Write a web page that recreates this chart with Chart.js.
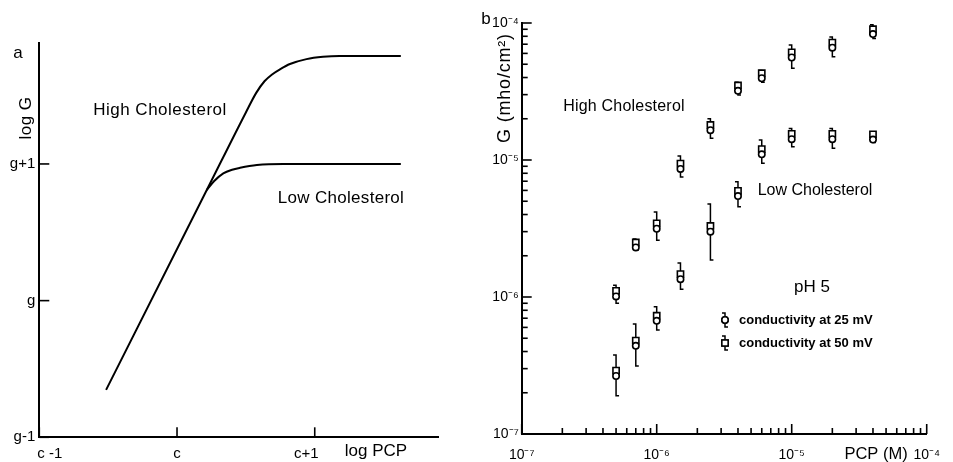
<!DOCTYPE html>
<html>
<head>
<meta charset="utf-8">
<script src="https://cdn.jsdelivr.net/npm/chart.js@4.4.1/dist/chart.umd.min.js"></script>
<style>
html, body { margin: 0; padding: 0; background: #fff; }
#wrap { position: relative; width: 953px; height: 462px; }
#boxA { position: absolute; left: 0; top: 0; width: 470px; height: 462px; }
#boxB { position: absolute; left: 470px; top: 0; width: 483px; height: 462px; }
</style>
</head>
<body>
<div id="wrap">
  <div id="boxA"><canvas id="chartA"></canvas></div>
  <div id="boxB"><canvas id="chartB"></canvas></div>
</div>
<script>
// ---- panel a : schematic (log G vs log PCP, units relative to c and g)
const logPcpTicks = [-1, 0, 1];
const logPcpLabels = ['\u00A0\u00A0\u00A0\u00A0\u00A0c -1', 'c', 'c+1\u00A0\u00A0\u00A0\u00A0'];
const logGTicks = [-1, 0, 1];
const logGLabels = ['g-1', 'g', 'g+1'];

const highCholX = [-0.515, 0.216, 0.50, 0.575, 0.635, 0.69, 0.75, 0.82, 0.94, 1.06, 1.18, 1.625];
const highCholY = [-0.653, 0.809, 1.377, 1.52, 1.605, 1.655, 1.694, 1.731, 1.767, 1.784, 1.79, 1.79];
const lowCholX = [0.216, 0.27, 0.336, 0.40, 0.458, 0.58, 0.77, 1.625];
const lowCholY = [0.809, 0.875, 0.931, 0.958, 0.972, 0.992, 1.0, 1.0];

// ---- panel b : measured conductance, pH 5
const pcpConc = [5e-7, 7e-7, 1e-6, 1.5e-6, 2.5e-6, 4e-6, 6e-6, 1e-5, 2e-5, 4e-5];

const highG25 = [1.01e-6, 2.3e-6, 3.15e-6, 8.6e-6, 1.65e-5, 3.2e-5, 3.95e-5, 5.6e-5, 6.6e-5, 8.3e-5];
const highG50 = [1.11e-6, 2.5e-6, 3.45e-6, 9.4e-6, 1.8e-5, 3.5e-5, 4.3e-5, 6.1e-5, 7.2e-5, 9.0e-5];
const highErrTop = [1.22e-6, 2.65e-6, 4.17e-6, 1.07e-5, 2.0e-5, 3.7e-5, 4.5e-5, 6.9e-5, 7.9e-5, 9.7e-5];
const highErrBot = [9.0e-7, 2.2e-6, 2.6e-6, 7.5e-6, 1.44e-5, 2.98e-5, 3.7e-5, 4.67e-5, 5.67e-5, 7.7e-5];

const lowG25 = [2.65e-7, 4.4e-7, 6.7e-7, 1.35e-6, 3.0e-6, 5.45e-6, 1.1e-5, 1.42e-5, 1.42e-5, 1.41e-5];
const lowG50 = [2.9e-7, 4.8e-7, 7.3e-7, 1.47e-6, 3.3e-6, 5.95e-6, 1.2e-5, 1.55e-5, 1.55e-5, 1.54e-5];
const lowErrTop = [3.77e-7, 6.35e-7, 8.5e-7, 1.77e-6, 4.77e-6, 6.95e-6, 1.4e-5, 1.7e-5, 1.7e-5, 1.61e-5];
const lowErrBot = [1.9e-7, 3.13e-7, 5.75e-7, 1.14e-6, 1.86e-6, 4.56e-6, 9.46e-6, 1.25e-5, 1.22e-5, 1.34e-5];

const decadeTicks = [1e-7, 1e-6, 1e-5, 1e-4];
const decadeLabels = ['10\u207B\u2077', '10\u207B\u2076', '10\u207B\u2075', '10\u207B\u2074'];
const minorSteps = [2, 3, 4, 5, 6, 7, 8, 9];

const FONT = "'Liberation Sans', Arial, sans-serif";

function logTickList() {
  let list = [];
  decadeTicks.forEach((d, i) => {
    list.push({ value: d, major: true });
    if (i < decadeTicks.length - 1) {
      minorSteps.forEach(m => list.push({ value: d * m, major: false }));
    }
  });
  return list;
}

// ticks pointing into the plot
const inwardTicks = {
  id: 'inwardTicks',
  afterDraw(chart, args, opts) {
    const ctx = chart.ctx;
    const xs = chart.scales.x, ys = chart.scales.y;
    ctx.save();
    ctx.strokeStyle = '#000';
    ctx.lineWidth = 1.6;
    xs.ticks.forEach(t => {
      const px = xs.getPixelForValue(t.value);
      const len = t.major ? opts.major : opts.minor;
      ctx.beginPath();
      ctx.moveTo(px, xs.top);
      ctx.lineTo(px, xs.top - len);
      ctx.stroke();
    });
    ys.ticks.forEach(t => {
      const py = ys.getPixelForValue(t.value);
      const len = t.major ? opts.major : opts.minor;
      ctx.beginPath();
      ctx.moveTo(ys.right, py);
      ctx.lineTo(ys.right + len, py);
      ctx.stroke();
    });
    ctx.restore();
  }
};

const textMarks = {
  id: 'textMarks',
  afterDraw(chart, args, opts) {
    const ctx = chart.ctx;
    (opts.items || []).forEach(it => {
      ctx.save();
      ctx.font = it.font;
      ctx.fillStyle = '#000';
      ctx.letterSpacing = it.spacing || '0px';
      ctx.textAlign = it.align || 'center';
      ctx.textBaseline = 'middle';
      ctx.translate(it.x, it.y);
      if (it.rotate) ctx.rotate(it.rotate);
      ctx.fillText(it.text, 0, 0);
      ctx.restore();
    });
  }
};

function drawBar(ctx, x, yTop, yBot) {
  ctx.beginPath();
  ctx.moveTo(x - 3, yTop);
  ctx.lineTo(x, yTop);
  ctx.lineTo(x, yBot);
  ctx.lineTo(x + 3, yBot);
  ctx.stroke();
}

const errorBars = {
  id: 'errorBars',
  beforeDatasetsDraw(chart) {
    const ctx = chart.ctx;
    const xs = chart.scales.x, ys = chart.scales.y;
    ctx.save();
    ctx.strokeStyle = '#000';
    ctx.lineWidth = 1.5;
    pcpConc.forEach((c, i) => {
      const px = xs.getPixelForValue(c);
      drawBar(ctx, px, ys.getPixelForValue(highErrTop[i]), ys.getPixelForValue(highErrBot[i]));
      drawBar(ctx, px, ys.getPixelForValue(lowErrTop[i]), ys.getPixelForValue(lowErrBot[i]));
    });
    ctx.restore();
  }
};

const keyBox = {
  id: 'keyBox',
  afterDraw(chart) {
    const ctx = chart.ctx;
    const rows = [
      { style: 'circle', y: 320, text: 'conductivity at 25 mV' },
      { style: 'rect', y: 343, text: 'conductivity at 50 mV' }
    ];
    ctx.save();
    rows.forEach(r => {
      ctx.strokeStyle = '#000';
      ctx.lineWidth = 1.5;
      drawBar(ctx, 255, r.y - 7, r.y + 7);
      Chart.helpers.drawPoint(ctx, {
        pointStyle: r.style, radius: r.style === 'rect' ? 4.4 : 3.2, borderWidth: 1.6
      }, 255, r.y);
      ctx.fillStyle = '#fff';
      ctx.fill();
      ctx.stroke();
      ctx.font = 'bold 13px ' + FONT;
      ctx.fillStyle = '#000';
      ctx.textAlign = 'left';
      ctx.textBaseline = 'middle';
      ctx.fillText(r.text, 269, r.y);
    });
    ctx.restore();
  }
};

// ---------- chart a
new Chart(document.getElementById('chartA'), {
  type: 'scatter',
  data: {
    datasets: [
      {
        data: highCholX.map((x, i) => ({ x: x, y: highCholY[i] })),
        showLine: true, borderColor: '#000', borderWidth: 2,
        pointRadius: 0, cubicInterpolationMode: 'monotone'
      },
      {
        data: lowCholX.map((x, i) => ({ x: x, y: lowCholY[i] })),
        showLine: true, borderColor: '#000', borderWidth: 2,
        pointRadius: 0, cubicInterpolationMode: 'monotone'
      }
    ]
  },
  options: {
    responsive: true,
    maintainAspectRatio: false,
    animation: false,
    devicePixelRatio: 1,
    layout: { padding: { left: 0, top: 43, right: 32, bottom: 0 } },
    plugins: {
      legend: { display: false },
      tooltip: { enabled: false },
      inwardTicks: { major: 10, minor: 10 },
      textMarks: {
        items: [
          { text: 'a', x: 18, y: 53, font: '17px ' + FONT },
          { text: 'log G', x: 26, y: 118, font: '17px ' + FONT, rotate: -Math.PI / 2, spacing: '0.5px' },
          { text: 'log PCP', x: 376, y: 451, font: '17px ' + FONT },
          { text: 'High Cholesterol', x: 160, y: 110, font: '17px ' + FONT, spacing: '0.5px' },
          { text: 'Low Cholesterol', x: 341, y: 198, font: '17px ' + FONT, spacing: '0.3px' }
        ]
      }
    },
    scales: {
      x: {
        type: 'linear', min: -1, max: 1.895,
        afterBuildTicks: s => { s.ticks = logPcpTicks.map(v => ({ value: v, major: true })); },
        afterFit: s => { s.height = 462 - 437.3; },
        grid: { display: false, drawTicks: false },
        border: { display: true, color: '#000', width: 2 },
        ticks: {
          autoSkip: false, maxRotation: 0, padding: 8, color: '#000',
          font: { family: FONT, size: 15 },
          callback: (v, i) => logPcpLabels[i]
        }
      },
      y: {
        type: 'linear', min: -1, max: 1.885,
        afterBuildTicks: s => { s.ticks = logGTicks.map(v => ({ value: v, major: true })); },
        afterFit: s => { s.width = 39.3; },
        grid: { display: false, drawTicks: false },
        border: { display: true, color: '#000', width: 2 },
        ticks: {
          autoSkip: false, padding: 4, color: '#000',
          font: { family: FONT, size: 15 },
          callback: (v, i) => logGLabels[i]
        }
      }
    }
  },
  plugins: [inwardTicks, textMarks]
});

// ---------- chart b
function pairSet(values, style, radius) {
  return {
    data: pcpConc.map((c, i) => ({ x: c, y: values[i] })),
    pointStyle: style, pointRadius: radius,
    pointBackgroundColor: '#fff', pointBorderColor: '#000', pointBorderWidth: 1.6,
    showLine: false
  };
}

new Chart(document.getElementById('chartB'), {
  type: 'scatter',
  data: {
    datasets: [
      pairSet(highG25, 'circle', 3.2),
      pairSet(lowG25, 'circle', 3.2),
      pairSet(highG50, 'rect', 4.4),
      pairSet(lowG50, 'rect', 4.4)
    ]
  },
  options: {
    responsive: true,
    maintainAspectRatio: false,
    animation: false,
    devicePixelRatio: 1,
    layout: { padding: { left: 0, top: 23, right: 483 - 466.7, bottom: 0 } },
    plugins: {
      legend: { display: false },
      tooltip: { enabled: false },
      inwardTicks: { major: 10, minor: 6 },
      textMarks: {
        items: [
          { text: 'b', x: 16, y: 19, font: '17px ' + FONT },
          { text: 'G (mho/cm\u00B2)', x: 35, y: 88, font: '18px ' + FONT, rotate: -Math.PI / 2, spacing: '0.8px' },
          { text: 'PCP (M)', x: 406, y: 454, font: '16.5px ' + FONT },
          { text: 'High Cholesterol', x: 154, y: 107, font: '16px ' + FONT, spacing: '0.2px' },
          { text: 'Low Cholesterol', x: 345, y: 191, font: '16px ' + FONT },
          { text: 'pH 5', x: 342, y: 287, font: '17px ' + FONT }
        ]
      }
    },
    scales: {
      x: {
        type: 'logarithmic', min: 1e-7, max: 1e-4,
        afterBuildTicks: s => { s.ticks = logTickList(); },
        afterFit: s => { s.height = 462 - 434; },
        grid: { display: false, drawTicks: false },
        border: { display: true, color: '#000', width: 2 },
        ticks: {
          autoSkip: false, maxRotation: 0, padding: 13, color: '#000',
          font: { family: FONT, size: 14 },
          callback: v => { const k = decadeTicks.indexOf(v); return k < 0 ? '' : decadeLabels[k]; }
        }
      },
      y: {
        type: 'logarithmic', min: 1e-7, max: 1e-4,
        afterBuildTicks: s => { s.ticks = logTickList(); },
        afterFit: s => { s.width = 51.7; },
        grid: { display: false, drawTicks: false },
        border: { display: true, color: '#000', width: 2 },
        ticks: {
          autoSkip: false, padding: 3, color: '#000',
          font: { family: FONT, size: 14 },
          callback: v => { const k = decadeTicks.indexOf(v); return k < 0 ? '' : decadeLabels[k]; }
        }
      }
    }
  },
  plugins: [errorBars, inwardTicks, textMarks, keyBox]
});
</script>
</body>
</html>
